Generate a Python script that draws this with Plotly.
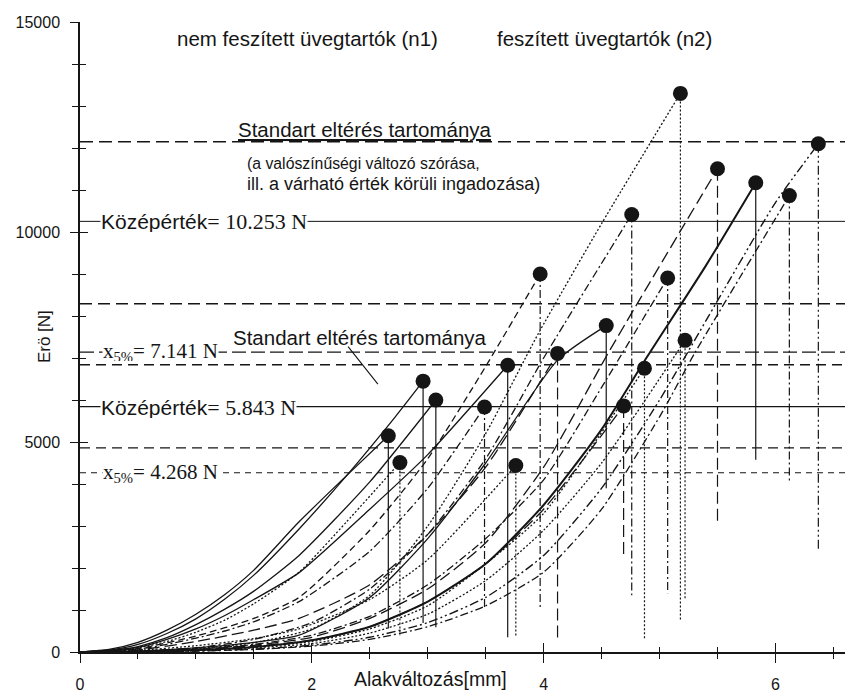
import plotly.graph_objects as go

# ---------------- data (deformation x in mm, force F in N) ----------------
# n1 : nem feszített üvegtartók
A_x = [0, 0.25, 0.5, 0.75, 1.0, 1.25, 1.5, 1.89, 2.3, 2.66]
A_F = [0, 60, 230, 520, 900, 1370, 1950, 3100, 4200, 5150]
B_x = [0, 0.25, 0.5, 0.75, 1.0, 1.25, 1.5, 1.89, 2.3, 2.76]
B_F = [0, 25, 100, 250, 470, 760, 1150, 1900, 3100, 4510]
C_x = [0, 0.25, 0.5, 0.75, 1.0, 1.25, 1.5, 1.89, 2.3, 2.72, 2.96]
C_F = [0, 45, 180, 440, 790, 1260, 1830, 2930, 4200, 5600, 6449]
D_x = [0, 0.25, 0.5, 0.75, 1.0, 1.25, 1.5, 1.89, 2.5, 3.07]
D_F = [0, 30, 130, 340, 650, 1020, 1450, 2300, 4050, 6000]
E_x = [0, 0.5, 0.75, 1.0, 1.25, 1.5, 1.89, 2.5, 3.0, 3.49]
E_F = [0, 70, 180, 330, 500, 720, 1200, 2400, 3900, 5835]
F_x = [0, 0.5, 0.75, 1.0, 1.25, 1.5, 1.89, 2.5, 3.0, 3.69]
F_F = [0, 110, 300, 550, 870, 1250, 1890, 3400, 4700, 6827]
G_x = [0, 0.5, 1.0, 1.5, 1.89, 2.5, 3.0, 3.76]
G_F = [0, 40, 150, 320, 550, 1250, 2200, 4441]
H_x = [0, 0.5, 1.0, 1.5, 1.89, 2.5, 3.0, 3.5, 3.97]
H_F = [0, 80, 380, 800, 1300, 2900, 4600, 6800, 9000]
I_x = [0, 0.5, 1.0, 1.5, 1.89, 2.5, 3.0, 3.5, 4.12]
I_F = [0, 50, 250, 520, 800, 1600, 2800, 4400, 7110]
J_x = [0, 0.5, 1.0, 1.5, 1.89, 2.5, 3.0, 3.5, 4.12, 4.54]
J_F = [0, 20, 100, 230, 400, 1300, 2700, 4500, 6950, 7772]
# n2 : feszített üvegtartók
K_x = [0, 0.5, 1.0, 1.5, 2.0, 2.5, 3.0, 3.5, 4.0, 4.69]
K_F = [0, 15, 60, 140, 280, 600, 1200, 2100, 3400, 5860]
L_x = [0, 0.5, 1.0, 1.5, 2.0, 2.5, 3.0, 3.5, 4.0, 4.76]
L_F = [0, 25, 100, 300, 700, 1500, 2800, 4600, 7000, 10418]
M_x = [0, 0.5, 1.0, 1.5, 2.0, 2.5, 3.0, 3.5, 4.0, 4.87]
M_F = [0, 12, 50, 120, 250, 550, 1100, 2100, 3300, 6757]
N_x = [0, 0.5, 1.0, 1.5, 2.0, 2.5, 3.0, 3.5, 4.0, 4.5, 5.07]
N_F = [0, 18, 70, 180, 400, 850, 1600, 2700, 4100, 6300, 8906]
O_x = [0, 0.5, 1.0, 1.5, 2.0, 2.5, 3.0, 3.5, 3.95, 4.5, 5.18]
O_F = [0, 20, 80, 220, 550, 1350, 3000, 5200, 7560, 10200, 13300]
P_x = [0, 0.5, 1.0, 1.5, 2.0, 2.5, 3.0, 3.5, 4.0, 4.5, 5.22]
P_F = [0, 10, 40, 100, 200, 450, 900, 1700, 2900, 4500, 7420]
Q_x = [0, 0.5, 1.0, 1.5, 2.0, 2.5, 3.0, 3.5, 4.0, 4.57, 5.50]
Q_F = [0, 15, 60, 160, 350, 800, 1500, 2600, 4400, 7180, 11505]
R_x = [0, 0.5, 1.0, 1.5, 2.0, 2.5, 3.0, 3.5, 4.0, 4.5, 4.89, 5.4, 5.83]
R_F = [0, 12, 45, 120, 280, 600, 1200, 2100, 3500, 5300, 7016, 9200, 11174]
S_x = [0, 0.5, 1.0, 1.5, 2.0, 2.5, 3.0, 3.5, 4.0, 4.5, 5.0, 5.3, 6.12]
S_F = [0, 5, 20, 60, 140, 300, 600, 1100, 1900, 3400, 5600, 7100, 10867]
T_x = [0, 0.5, 1.0, 1.5, 2.0, 2.5, 3.0, 3.5, 4.0, 4.5, 5.0, 5.55, 6.0, 6.37]
T_F = [0, 6, 25, 70, 160, 350, 700, 1300, 2300, 3900, 6000, 8600, 10700, 12100]

curve_names = ["A", "B", "C", "D", "E", "F", "G", "H", "I", "J",
               "K", "L", "M", "N", "O", "P", "Q", "R", "S", "T"]
# force level where the vertical failure (drop) line ends
drop_end_F = [560, 400, 690, 590, 1060, 350, 350, 1040, 240, 3900,
              2220, 1350, 330, 1400, 760, 1230, 3050, 4580, 4020, 2390]

# horizontal statistics lines
ref_F = [12150, 10253, 8290, 7141, 6840, 5843, 4860, 4268]

# ---------------- styles ----------------
DOT = "2px,2px"
DASH = "7px,4px"
LDASH = "12px,5px"
DDOT = "8px,3px,2px,3px"
DDD = "9px,3px,2px,3px,2px,3px"
curve_dash = ["solid", DOT, "solid", "solid", DDOT, "solid", DOT, DASH, LDASH, "solid",
              LDASH, DDOT, DOT, DDOT, DOT, DOT, LDASH, "solid", DDOT, DDD]
drop_dash = ["solid", DOT, "solid", "solid", DDOT, "solid", DOT, DDOT, LDASH, "solid",
             LDASH, DDOT, DOT, DDOT, DOT, DOT, LDASH, "solid", DDOT, DDD]
curve_width = [1.3] * 17 + [2.0, 1.3, 1.4]
ref_dash = ["13px,6px", "solid", "12px,6px", "14px,5px", "10px,6px", "solid", "10px,6px", "6px,5px"]
ref_width = [1.5, 1.0, 1.4, 1.4, 1.4, 1.2, 1.4, 1.2]

INK = "#151515"
X_MAX = 6.6
Y_MAX = 15000

data_x = {n: globals()[n + "_x"] for n in curve_names}
data_F = {n: globals()[n + "_F"] for n in curve_names}

fig = go.Figure()

# statistics lines
for yv, ds, w in zip(ref_F, ref_dash, ref_width):
    fig.add_trace(go.Scatter(x=[0, X_MAX], y=[yv, yv], mode="lines",
                             line=dict(color=INK, width=w, dash=ds),
                             hoverinfo="skip", showlegend=False))

peak_x, peak_F = [], []
for i, n in enumerate(curve_names):
    xs, fs = data_x[n], data_F[n]
    fig.add_trace(go.Scatter(x=xs, y=fs, mode="lines",
                             line=dict(color=INK, width=curve_width[i], dash=curve_dash[i],
                                       shape="spline", smoothing=0.6),
                             hoverinfo="skip", showlegend=False))
    fig.add_trace(go.Scatter(x=[xs[-1], xs[-1]], y=[fs[-1], drop_end_F[i]], mode="lines",
                             line=dict(color=INK, width=1.2, dash=drop_dash[i]),
                             hoverinfo="skip", showlegend=False))
    peak_x.append(xs[-1])
    peak_F.append(fs[-1])

fig.add_trace(go.Scatter(x=peak_x, y=peak_F, mode="markers",
                         marker=dict(color=INK, size=15),
                         hoverinfo="skip", showlegend=False))

# helper trace for the inner half of the crossing ticks
fig.add_trace(go.Scatter(x=[0], y=[0], xaxis="x2", yaxis="y2", mode="markers",
                         marker=dict(size=1, opacity=0), hoverinfo="skip", showlegend=False))

SANS = "Liberation Sans, Arial, sans-serif"
SERIF = "Liberation Serif, Times New Roman, serif"

def sans(t, s):
    return f'<span style="font-family:{SANS};font-size:{s}px">{t}</span>'

def serif(t, s):
    return f'<span style="font-family:{SERIF};font-size:{s}px">{t}</span>'

ann = []
def add(text, x, y, size=20, font=SANS, **kw):
    d = dict(text=text, x=x, y=y, xref="x", yref="y", showarrow=False,
             xanchor="left", yanchor="middle", font=dict(family=font, size=size, color=INK))
    d.update(kw)
    ann.append(d)

add("nem feszített üvegtartók (n1)", 0.82, 14600, 20.5)
add("feszített üvegtartók (n2)", 3.58, 14600, 20.5)
add("<u>Standart eltérés tartománya</u>", 1.35, 12440, 20.5)
add("(a valószínűségi változó szórása,", 1.42, 11640, 15.8)
add("ill. a várható érték körüli ingadozása)", 1.42, 11150, 18)
add("Standart eltérés tartománya", 1.30, 7500, 20.5)

# pointer from the lower "Standart eltérés" label
ann.append(dict(text="", x=2.57, y=6380, xref="x", yref="y", ax=-31, ay=-39,
                showarrow=True, arrowhead=0, arrowwidth=1.1, arrowcolor=INK,
                standoff=0, startstandoff=0))

add(sans("Középérték", 21) + serif("= 10.253 N", 22), 0.17, 10253,
    bgcolor="white", borderpad=0, height=22)
add(sans("Középérték", 21) + serif("= 5.843 N", 22), 0.17, 5843,
    bgcolor="white", borderpad=0, height=22)
add(serif("x<sub>5%</sub>= 7.141 N", 21), 0.19, 7141,
    bgcolor="white", borderpad=0, height=18)
add(serif("x<sub>5%</sub>= 4.268 N", 21), 0.19, 4268,
    bgcolor="white", borderpad=0, height=20)

# axis titles
ann.append(dict(text="Erö [N]", x=-0.062, y=0.50, xref="paper", yref="paper",
                showarrow=False, textangle=-90, font=dict(family=SANS, size=17, color=INK)))
ann.append(dict(text="Alakváltozás[mm]", x=3.02, y=0, xref="x", yref="paper",
                yshift=-27, showarrow=False, xanchor="center", yanchor="middle",
                font=dict(family=SANS, size=19.5, color=INK)))

axis_common = dict(showgrid=False, zeroline=False, color=INK)

fig.update_layout(
    width=845, height=693,
    margin=dict(l=80, r=0, t=22, b=36),
    paper_bgcolor="white", plot_bgcolor="white",
    showlegend=False,
    annotations=ann,
    xaxis=dict(range=[0, X_MAX], tickvals=[0, 2, 4, 6], ticktext=["0", "2", "4", "6"],
               ticks="outside", ticklen=9, tickwidth=1.3, tickcolor=INK,
               minor=dict(dtick=0.5, tick0=0, ticks="outside", ticklen=5, tickwidth=1.1, tickcolor=INK),
               showline=True, linecolor=INK, linewidth=1.5,
               tickfont=dict(family=SANS, size=16, color=INK), ticklabelstandoff=8,
               **axis_common),
    yaxis=dict(range=[0, Y_MAX], tickvals=[0, 5000, 10000, 15000],
               ticktext=["0", "5000", "10000", "15000"],
               ticks="outside", ticklen=8, tickwidth=1.3, tickcolor=INK,
               minor=dict(dtick=1000, tick0=0, ticks="outside", ticklen=6, tickwidth=1.1, tickcolor=INK),
               showline=True, linecolor=INK, linewidth=1.5,
               tickfont=dict(family=SANS, size=16, color=INK), ticklabelstandoff=7,
               **axis_common),
    xaxis2=dict(range=[0, X_MAX], overlaying="x", anchor="y2", tickvals=[0, 2, 4, 6],
                ticks="inside", ticklen=9, tickwidth=1.3, tickcolor=INK, showticklabels=False,
                minor=dict(dtick=0.5, tick0=0, ticks="inside", ticklen=5, tickwidth=1.1, tickcolor=INK),
                showline=False, **axis_common),
    yaxis2=dict(range=[0, Y_MAX], overlaying="y", anchor="x2", tickvals=[0, 5000, 10000, 15000],
                ticks="inside", ticklen=8, tickwidth=1.3, tickcolor=INK, showticklabels=False,
                minor=dict(dtick=1000, tick0=0, ticks="inside", ticklen=6, tickwidth=1.1, tickcolor=INK),
                showline=False, **axis_common),
)

fig.write_html("out.html", config={"displayModeBar": False},
               post_script="document.body.style.margin='0';document.body.style.overflow='hidden';")
